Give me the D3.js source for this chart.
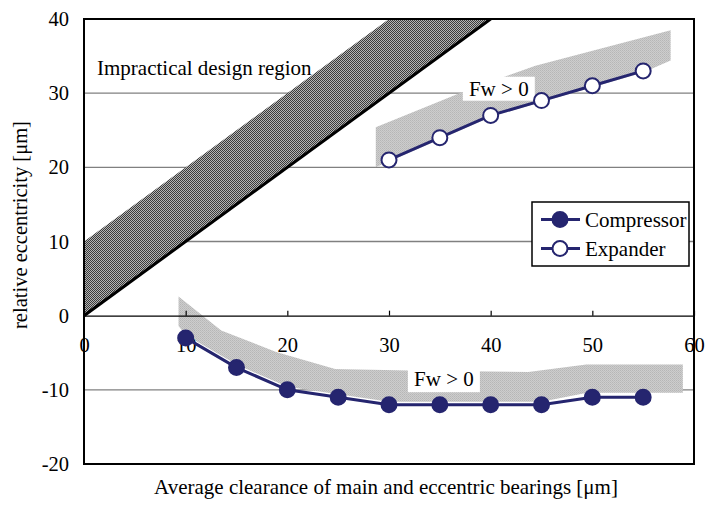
<!DOCTYPE html>
<html>
<head>
<meta charset="utf-8">
<script src="https://cdn.jsdelivr.net/npm/d3@7/dist/d3.min.js"></script>
<style>
  html, body { margin: 0; padding: 0; background: #fff; }
  svg { display: block; }
  text { font-family: "Liberation Serif", "Times New Roman", serif; fill: #000; }
</style>
</head>
<body>
<svg id="chart" width="706" height="510"></svg>
<script>
// Axis ticks
const xTicks = [0, 10, 20, 30, 40, 50, 60];
const yTicks = [-20, -10, 0, 10, 20, 30, 40];

// Measured series
const compressorX = [10, 15, 20, 25, 30, 35, 40, 45, 50, 55];
const compressorY = [-3, -7, -10, -11, -12, -12, -12, -12, -11, -11];
const expanderX = [30, 35, 40, 45, 50, 55];
const expanderY = [21, 24, 27, 29, 31, 33];

// Limit line e = c and the impractical band above it
const limitLine = [[0, 0], [40, 40]];
const impracticalRegion = [[0, 0], [40, 40], [30, 40], [0, 10]];

// Shaded "Fw > 0" zones (outline points, clockwise)
const expanderZone = [
  [28.7, 20.0], [28.7, 25.4], [37.3, 30.2], [44.4, 33.7], [57.7, 38.5],
  [57.7, 34.4], [55, 32.8], [50, 30.8], [45, 28.8], [40, 26.8], [35, 23.8], [30, 20.8]
];
const compressorZone = [
  [9.3, 2.6], [13.5, -2.0], [18.9, -4.9], [24.7, -7.2], [31.9, -7.4], [43.7, -7.6],
  [49.4, -6.6], [58.9, -6.6], [58.9, -10.4], [49.5, -10.4], [45, -11.6], [30, -11.6],
  [25, -10.6], [20, -9.6], [15, -6.6], [10, -2.6], [9.3, -1.4]
];

const SERIF = "Liberation Serif, Times New Roman, serif";
const svg = d3.select("#chart");
const x = d3.scaleLinear().domain([0, 60]).range([84, 694]);
const y = d3.scaleLinear().domain([-20, 40]).range([464, 19]);
const fmt = d => String(d);

const navy = "#25256f";
const defs = svg.append("defs");

// fine dark checker hatch for the impractical region
const hatch = defs.append("pattern").attr("id", "hatch")
  .attr("patternUnits", "userSpaceOnUse").attr("width", 2).attr("height", 2);
hatch.append("rect").attr("width", 2).attr("height", 2).attr("fill", "#b4b4b4");
[[0, 0], [1, 1]].forEach(([px, py]) =>
  hatch.append("rect").attr("x", px).attr("y", py).attr("width", 1).attr("height", 1)
    .attr("fill", "#3a3a3a").attr("shape-rendering", "crispEdges"));

// light dotted grey for the Fw > 0 zones
const dots = defs.append("pattern").attr("id", "dots")
  .attr("patternUnits", "userSpaceOnUse").attr("width", 2).attr("height", 2);
dots.append("rect").attr("width", 2).attr("height", 2).attr("fill", "#cdcdcd");
dots.append("rect").attr("width", 1).attr("height", 1).attr("fill", "#b6b6b6");
dots.append("rect").attr("x", 1).attr("y", 1).attr("width", 1).attr("height", 1).attr("fill", "#bebebe");

defs.append("clipPath").attr("id", "plotClip").append("rect")
  .attr("x", x(0)).attr("y", y(40)).attr("width", x(60) - x(0)).attr("height", y(-20) - y(40));

// gridlines
svg.append("g").selectAll("line").data(yTicks.filter(v => v > -20 && v < 40 && v !== 0))
  .join("line")
  .attr("x1", x(0)).attr("x2", x(60))
  .attr("y1", d => y(d)).attr("y2", d => y(d))
  .attr("stroke", "#808080").attr("stroke-width", 1.4);

const plot = svg.append("g").attr("clip-path", "url(#plotClip)");
const poly = d3.line().x(d => x(d[0])).y(d => y(d[1]));

plot.append("path").attr("d", poly(expanderZone) + "Z").attr("fill", "url(#dots)");
plot.append("path").attr("d", poly(compressorZone) + "Z").attr("fill", "url(#dots)");
plot.append("path").attr("d", poly(impracticalRegion) + "Z").attr("fill", "url(#hatch)");
plot.append("path").attr("d", poly(limitLine))
  .attr("stroke", "#000").attr("stroke-width", 3).attr("fill", "none");

// x axis through zero, ticks pointing up, labels below
const xAxisG = svg.append("g").attr("transform", `translate(0,${y(0)})`)
  .call(d3.axisBottom(x).tickValues(xTicks).tickSize(0).tickPadding(0).tickFormat(fmt));
xAxisG.attr("font-family", SERIF);
xAxisG.select(".domain").attr("stroke", "#000").attr("stroke-width", 1.4);
xAxisG.selectAll(".tick text").attr("font-size", 20.5).attr("font-family", SERIF)
  .attr("dy", "1.55em").attr("y", 5);
xAxisG.selectAll(".tick").append("line").attr("y1", 0).attr("y2", -5)
  .attr("stroke", "#000").attr("stroke-width", 1.2);

// y axis labels
const yAxisG = svg.append("g").attr("transform", `translate(${x(0)},0)`)
  .call(d3.axisLeft(y).tickValues(yTicks).tickSize(0).tickPadding(15).tickFormat(fmt));
yAxisG.attr("font-family", SERIF);
yAxisG.select(".domain").remove();
yAxisG.selectAll(".tick text").attr("font-size", 20.5).attr("font-family", SERIF);

// "Fw > 0" notes with white backing
function note(cx, cy, w, h, label) {
  const g = svg.append("g");
  g.append("rect").attr("x", x(cx) - w / 2).attr("y", y(cy) - h / 2)
    .attr("width", w).attr("height", h).attr("fill", "#fff");
  g.append("text").attr("x", x(cx)).attr("y", y(cy) + 7).attr("font-family", SERIF)
    .attr("text-anchor", "middle").attr("font-size", 21).text(label);
}
note(40.8, 30.6, 72, 24, "Fw > 0");
note(35.4, -8.5, 72, 27, "Fw > 0");

svg.append("text").attr("x", 97).attr("y", 75).attr("font-size", 21).attr("font-family", SERIF)
  .text("Impractical design region");

// series
const seriesLine = d3.line().x(d => x(d[0])).y(d => y(d[1]));
const comp = compressorX.map((v, i) => [v, compressorY[i]]);
const exp = expanderX.map((v, i) => [v, expanderY[i]]);

svg.append("path").attr("d", seriesLine(comp)).attr("fill", "none")
  .attr("stroke", navy).attr("stroke-width", 3);
svg.append("g").selectAll("circle").data(comp).join("circle")
  .attr("cx", d => x(d[0])).attr("cy", d => y(d[1])).attr("r", 7.5)
  .attr("fill", navy).attr("stroke", navy).attr("stroke-width", 2);

svg.append("path").attr("d", seriesLine(exp)).attr("fill", "none")
  .attr("stroke", navy).attr("stroke-width", 3);
svg.append("g").selectAll("circle").data(exp).join("circle")
  .attr("cx", d => x(d[0])).attr("cy", d => y(d[1])).attr("r", 7.5)
  .attr("fill", "#fff").attr("stroke", navy).attr("stroke-width", 2);

// plot frame
svg.append("rect").attr("x", x(0)).attr("y", y(40))
  .attr("width", x(60) - x(0)).attr("height", y(-20) - y(40))
  .attr("fill", "none").attr("stroke", "#000").attr("stroke-width", 2);

// legend
const legend = svg.append("g").attr("transform", "translate(532,202)");
legend.append("rect").attr("width", 157).attr("height", 64)
  .attr("fill", "#fff").attr("stroke", "#000").attr("stroke-width", 1.5);
[{ name: "Compressor", fill: navy, dy: 17.5 }, { name: "Expander", fill: "#fff", dy: 46.5 }]
  .forEach(s => {
    legend.append("line").attr("x1", 9).attr("x2", 48).attr("y1", s.dy).attr("y2", s.dy)
      .attr("stroke", navy).attr("stroke-width", 3);
    legend.append("circle").attr("cx", 28).attr("cy", s.dy).attr("r", 7.5)
      .attr("fill", s.fill).attr("stroke", navy).attr("stroke-width", 2);
    legend.append("text").attr("x", 53).attr("y", s.dy + 7).attr("font-size", 21)
      .attr("font-family", SERIF).text(s.name);
  });

// axis titles
svg.append("text").attr("x", 386).attr("y", 494).attr("text-anchor", "middle")
  .attr("font-size", 21).attr("font-family", SERIF)
  .text("Average clearance of main and eccentric bearings [μm]");
svg.append("text").attr("transform", "translate(27,225) rotate(-90)")
  .attr("text-anchor", "middle").attr("font-size", 20.5).attr("font-family", SERIF)
  .text("relative eccentricity [μm]");
</script>
</body>
</html>
